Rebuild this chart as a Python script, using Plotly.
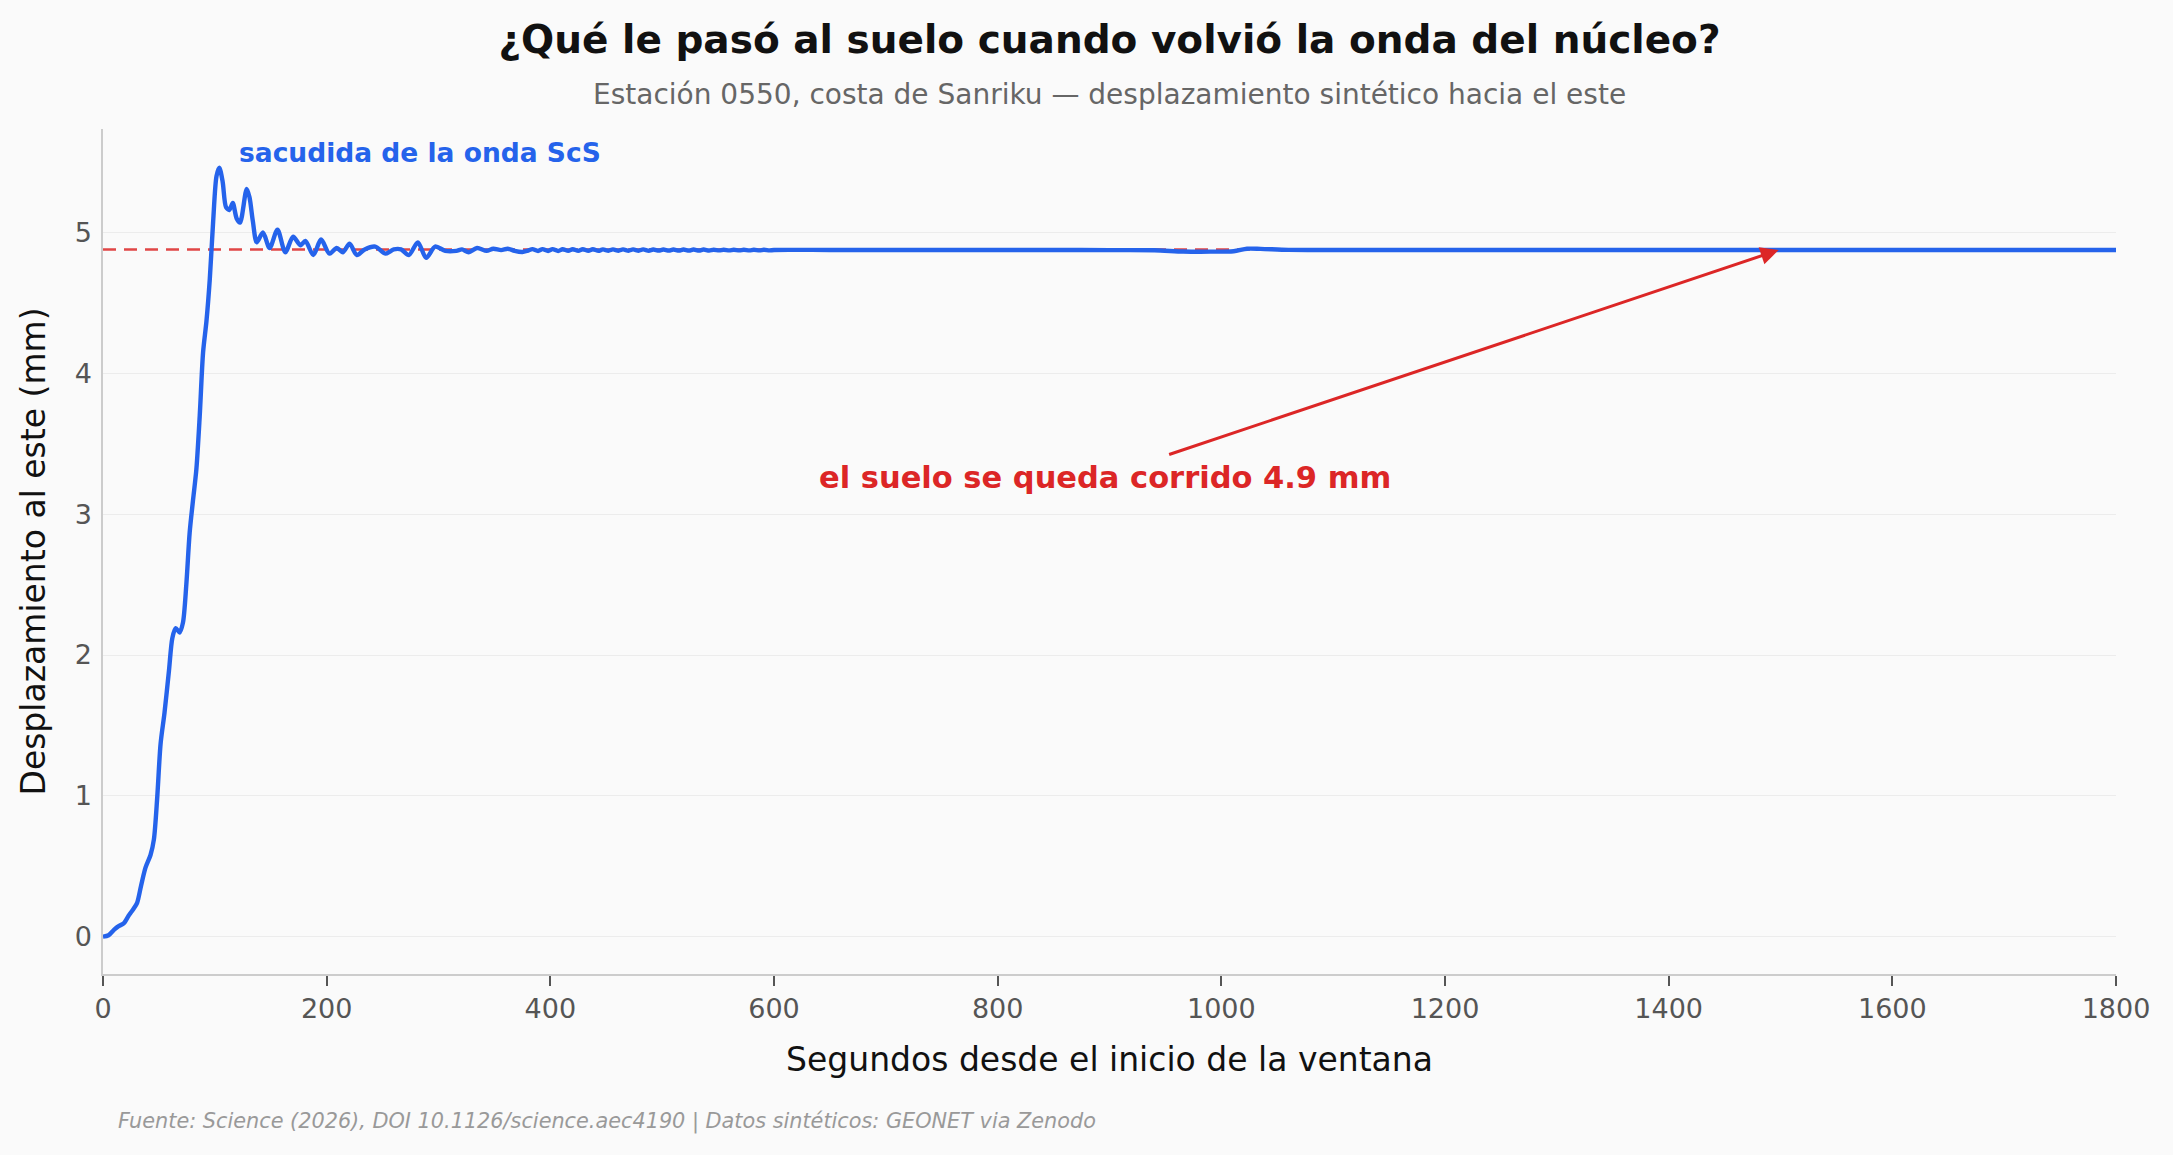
import plotly.graph_objects as go

# ---- data ----
t_early = [0, 5, 10, 14, 18.5, 23, 27.5, 30.5, 34, 38, 42.5, 45.5, 48.5, 51.5, 55, 59, 62, 65,
           68.5, 71.5, 74.5, 77.5, 80.5, 83.5, 86.5, 89.5, 92.5, 95.5, 98.5, 101.5, 104, 107,
           110, 113, 116, 119.5, 122.5, 128.5, 131, 134, 137.5, 143, 149, 156, 163, 170, 176.5,
           181, 188, 195, 202.5, 209, 214.5, 220.5, 227, 234, 243.5, 252.5, 260, 266.5, 273.5,
           281.5, 289, 297, 306, 316, 321, 327, 334.5, 343, 349, 356, 362, 368, 375]
v_early = [0, 0.01, 0.05, 0.075, 0.094, 0.15, 0.20, 0.24, 0.36, 0.49, 0.58, 0.69, 0.99, 1.37,
           1.59, 1.89, 2.12, 2.19, 2.16, 2.23, 2.50, 2.87, 3.10, 3.32, 3.70, 4.15, 4.37, 4.67,
           5.08, 5.40, 5.46, 5.36, 5.18, 5.16, 5.21, 5.10, 5.07, 5.31, 5.25, 5.08, 4.93, 5.00,
           4.89, 5.02, 4.86, 4.97, 4.91, 4.94, 4.84, 4.95, 4.85, 4.89, 4.86, 4.92, 4.84, 4.88,
           4.90, 4.85, 4.88, 4.88, 4.84, 4.93, 4.82, 4.90, 4.87, 4.87, 4.88, 4.86, 4.89, 4.87,
           4.885, 4.875, 4.885, 4.87, 4.862]
t_tail = [380, 384, 389, 393, 398, 402, 407, 411, 416, 420, 425, 429, 434, 438, 443, 447, 452,
          456, 461, 465, 470, 474, 479, 483, 488, 492, 497, 501, 506, 510, 515, 519, 524, 528,
          533, 537, 542, 546, 551, 555, 560, 564, 569, 573, 578, 582, 587, 591, 596, 600,
          650, 700, 750, 800, 850, 900, 940, 966, 990, 1011, 1023, 1035, 1060, 1100, 1200,
          1300, 1400, 1500, 1600, 1700, 1800]
v_tail = [4.872, 4.882, 4.869, 4.882, 4.869, 4.882, 4.869, 4.881, 4.870, 4.881, 4.870, 4.881,
          4.870, 4.881, 4.870, 4.880, 4.871, 4.880, 4.871, 4.880, 4.871, 4.880, 4.871, 4.880,
          4.871, 4.879, 4.872, 4.879, 4.872, 4.879, 4.872, 4.879, 4.872, 4.879, 4.872, 4.879,
          4.872, 4.878, 4.873, 4.878, 4.873, 4.878, 4.873, 4.878, 4.873, 4.878, 4.873, 4.878,
          4.873, 4.876, 4.876, 4.876, 4.876, 4.876, 4.876, 4.875, 4.874, 4.865, 4.864, 4.867,
          4.885, 4.884, 4.877, 4.876, 4.876, 4.876, 4.876, 4.876, 4.876, 4.876, 4.876]
t_sec = t_early + t_tail
disp_mm = v_early + v_tail

offset_mm = 4.88
x_range = [0, 1800]
y_range = [-0.265, 5.735]

BLUE = "#2563eb"
RED = "#dc2626"
BG = "#fafafa"
FONT = "DejaVu Sans"

fig = go.Figure()
fig.add_trace(go.Scatter(x=x_range, y=[offset_mm, offset_mm], mode="lines",
                         line=dict(color="rgba(220,38,38,0.85)", width=2.5, dash="13px,8px"),
                         hoverinfo="skip", showlegend=False))
fig.add_trace(go.Scatter(x=t_sec, y=disp_mm, mode="lines",
                         line=dict(color=BLUE, width=4.4, shape="spline", smoothing=0.8),
                         showlegend=False))

fig.update_layout(
    width=2173, height=1155,
    paper_bgcolor=BG, plot_bgcolor=BG,
    margin=dict(l=103, r=57, t=129, b=181),
    font=dict(family=FONT, color="#222"),
    title=dict(text="<b>¿Qué le pasó al suelo cuando volvió la onda del núcleo?</b>",
               x=0.5, xref="paper", y=1 - 39 / 1155, yref="container", yanchor="middle",
               xanchor="center", font=dict(size=39, color="#111", family=FONT)),
    showlegend=False,
)
fig.update_xaxes(range=x_range, dtick=200, tick0=0, showgrid=False, zeroline=False,
                 showline=True, linecolor="#cccccc", linewidth=1.5,
                 ticks="outside", ticklen=10, tickwidth=1.5, tickcolor="#555",
                 tickfont=dict(size=27, color="#555", family=FONT),
                 title=dict(text="Segundos desde el inicio de la ventana",
                            font=dict(size=33, color="#111", family=FONT), standoff=25))
fig.update_yaxes(range=y_range, dtick=1, tick0=0, showgrid=True, gridcolor="#ececec",
                 gridwidth=1.3, zeroline=False, showline=True, linecolor="#cccccc",
                 linewidth=1.5, ticks="", ticklabelstandoff=4,
                 tickfont=dict(size=27, color="#555", family=FONT),
                 title=dict(text="Desplazamiento al este (mm)",
                            font=dict(size=33, color="#111", family=FONT), standoff=19))

# subtitle
fig.add_annotation(text="Estación 0550, costa de Sanriku — desplazamiento sintético hacia el este",
                   xref="paper", yref="paper", x=0.5, y=(974 - 94) / 845, showarrow=False,
                   xanchor="center", yanchor="middle",
                   font=dict(size=28, color="#666", family=FONT))
# footer
fig.add_annotation(text="<i>Fuente: Science (2026), DOI 10.1126/science.aec4190 | Datos sintéticos: GEONET via Zenodo</i>",
                   xref="paper", yref="paper", x=(116 - 102.6) / 2013.5, y=(974 - 1121) / 845,
                   showarrow=False, xanchor="left", yanchor="middle",
                   font=dict(size=20.8, color="#999", family=FONT))
# ScS label
fig.add_annotation(text="<b>sacudida de la onda ScS</b>", x=120, y=5.57, xref="x", yref="y",
                   showarrow=False, xanchor="left", yanchor="middle",
                   font=dict(size=26.5, color=BLUE, family=FONT))
# offset label
fig.add_annotation(text="<b>el suelo se queda corrido 4.9 mm</b>", x=896, y=3.26, xref="x", yref="y",
                   showarrow=False, xanchor="center", yanchor="middle",
                   font=dict(size=30.5, color=RED, family=FONT))
# arrow
fig.add_annotation(text="", x=1500, y=offset_mm, xref="x", yref="y",
                   ax=952, ay=3.42, axref="x", ayref="y",
                   showarrow=True, arrowhead=2, arrowsize=1.2, arrowwidth=3, arrowcolor=RED,
                   standoff=2)

fig.write_html("out.html")
